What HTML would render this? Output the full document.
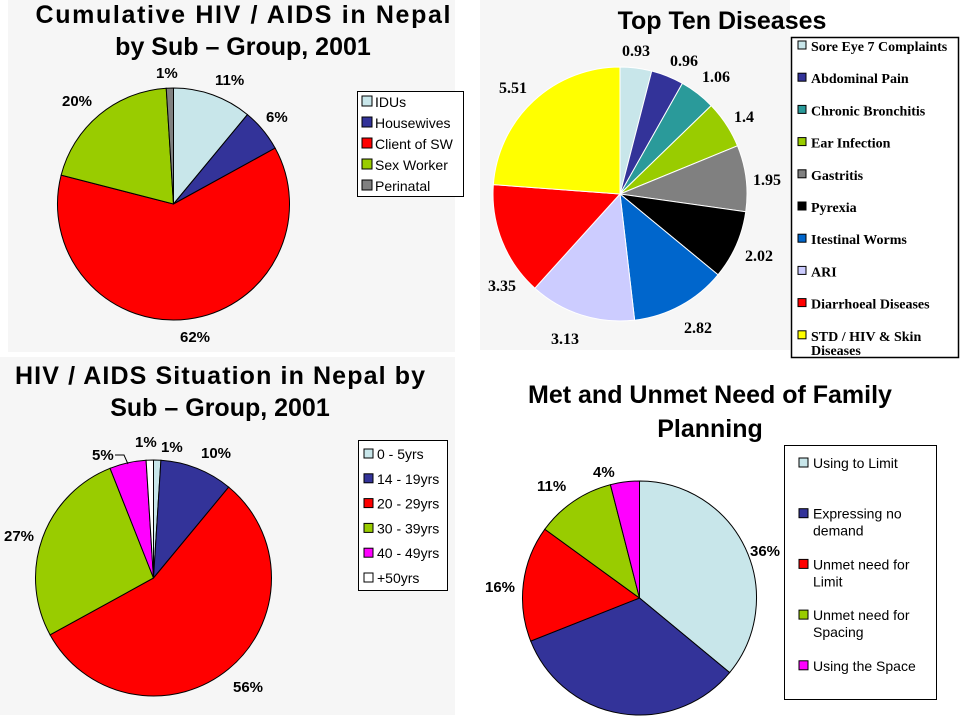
<!DOCTYPE html>
<html><head><meta charset="utf-8"><style>
body{margin:0;background:#fff;width:963px;height:719px;overflow:hidden}
svg{display:block}
text{font-family:"Liberation Sans",Arial,sans-serif}
.t{font-weight:bold;font-size:25px;text-anchor:middle}
.l{font-size:14px}
.p{font-weight:bold;font-size:15px}
.s{font-family:"Liberation Serif",serif;font-weight:bold;font-size:14px}
.sv{font-family:"Liberation Serif",serif;font-weight:bold;font-size:16px}
</style></head><body>
<svg id="s" width="963" height="719" xmlns="http://www.w3.org/2000/svg">
<rect x="8" y="0" width="447" height="352" fill="#f6f6f6"/>
<rect x="480" y="0" width="310" height="350" fill="#f6f6f6"/>
<rect x="0" y="357" width="455" height="358" fill="#f6f6f6"/>
<g id="pies"></g>
<text class="t" x="243" y="23" textLength="415">Cumulative HIV / AIDS  in Nepal</text>
<text class="t" x="243" y="55">by Sub – Group, 2001</text>
<text class="p" x="156" y="78">1%</text>
<text class="p" x="215" y="85">11%</text>
<text class="p" x="266" y="122">6%</text>
<text class="p" x="62" y="106">20%</text>
<text class="p" x="180" y="342">62%</text>
<rect x="357.5" y="91.5" width="106" height="105" fill="#fff" stroke="#000"/>
<rect x="362" y="96" width="10" height="10" fill="#c8e6ea" stroke="#000"/><text class="l" x="375" y="107">IDUs</text>
<rect x="362" y="117" width="10" height="10" fill="#333399" stroke="#000"/><text class="l" x="375" y="128">Housewives</text>
<rect x="362" y="138" width="10" height="10" fill="#ff0000" stroke="#000"/><text class="l" x="375" y="149">Client of SW</text>
<rect x="362" y="159" width="10" height="10" fill="#99cc00" stroke="#000"/><text class="l" x="375" y="170">Sex Worker</text>
<rect x="362" y="180" width="10" height="10" fill="#808080" stroke="#000"/><text class="l" x="375" y="191">Perinatal</text>
<text class="t" x="722" y="29">Top Ten Diseases</text>
<text class="sv" x="622" y="56">0.93</text>
<text class="sv" x="670" y="66">0.96</text>
<text class="sv" x="702" y="82">1.06</text>
<text class="sv" x="734" y="122">1.4</text>
<text class="sv" x="753" y="185">1.95</text>
<text class="sv" x="745" y="261">2.02</text>
<text class="sv" x="684" y="333">2.82</text>
<text class="sv" x="551" y="344">3.13</text>
<text class="sv" x="488" y="291">3.35</text>
<text class="sv" x="499" y="93">5.51</text>
<rect x="791.5" y="37.5" width="167" height="320" fill="#fff" stroke="#000" stroke-width="1.5"/>
<g id="leg2"></g>
<text class="t" x="220" y="384" textLength="410">HIV / AIDS  Situation in Nepal by</text>
<text class="t" x="220" y="416">Sub – Group, 2001</text>
<text class="p" x="135" y="447">1%</text>
<text class="p" x="161" y="452">1%</text>
<text class="p" x="201" y="458">10%</text>
<text class="p" x="92" y="460">5%</text>
<polyline points="115,455 124,455 128,464" fill="none" stroke="#000"/>
<text class="p" x="4" y="541">27%</text>
<text class="p" x="233" y="692">56%</text>
<rect x="358.5" y="440.5" width="89" height="150" fill="#fff" stroke="#000"/>
<g id="leg3"></g>
<text class="t" x="710" y="403">Met and Unmet Need of Family</text>
<text class="t" x="710" y="437">Planning</text>
<text class="p" x="750" y="556">36%</text>
<text class="p" x="485" y="592">16%</text>
<text class="p" x="537" y="491">11%</text>
<text class="p" x="593" y="477">4%</text>
<rect x="784.5" y="445.5" width="152" height="254" fill="#fff" stroke="#000"/>
<g id="leg4"></g>
</svg>
<script>
var NS="http://www.w3.org/2000/svg";
function el(p,t,a,txt){var e=document.createElementNS(NS,t);for(var k in a)e.setAttribute(k,a[k]);if(txt)e.textContent=txt;p.appendChild(e);return e;}
var pies=document.getElementById("pies");
function pie(cx,cy,r,vals,cols,sw){
 var tot=vals.reduce(function(a,b){return a+b},0),a=0;
 vals.forEach(function(v,i){
  var a0=a/tot*2*Math.PI,a1=(a+v)/tot*2*Math.PI;a+=v;
  var x0=cx+r*Math.sin(a0),y0=cy-r*Math.cos(a0),x1=cx+r*Math.sin(a1),y1=cy-r*Math.cos(a1);
  var lg=(a1-a0)>Math.PI?1:0;
  el(pies,"path",{d:"M"+cx+","+cy+"L"+x0+","+y0+"A"+r+","+r+" 0 "+lg+" 1 "+x1+","+y1+"Z",fill:cols[i],stroke:sw||"#000","stroke-width":1});
 });
}
pie(173.5,204,116,[11,6,62,20,1],["#c8e6ea","#333399","#ff0000","#99cc00","#808080"]);
pie(620,194,127,[0.93,0.96,1.06,1.4,1.95,2.02,2.82,3.13,3.35,5.51],["#c8e6ea","#333399","#2a9a9a","#99cc00","#808080","#000000","#0066cc","#ccccff","#ff0000","#ffff00"],"#fff");
pie(153.5,578,118,[1,10,56,27,5,1],["#c8e6ea","#333399","#ff0000","#99cc00","#ff00ff","#ffffff"]);
pie(639.5,598,117,[36,33,16,11,4],["#c8e6ea","#333399","#ff0000","#99cc00","#ff00ff"]);
var g2=document.getElementById("leg2");
var n2=["Sore Eye 7 Complaints","Abdominal Pain","Chronic Bronchitis","Ear Infection","Gastritis","Pyrexia","Itestinal Worms","ARI","Diarrhoeal Diseases","STD / HIV & Skin"];
var c2=["#c8e6ea","#333399","#2a9a9a","#99cc00","#808080","#000000","#0066cc","#ccccff","#ff0000","#ffff00"];
n2.forEach(function(n,i){var y=47+i*32.2;el(g2,"rect",{x:798,y:y-6,width:8,height:8,fill:c2[i],stroke:"#000"});el(g2,"text",{class:"s",x:811,y:y+4},n);});
el(g2,"text",{class:"s",x:811,y:355},"Diseases");
var g3=document.getElementById("leg3");
var n3=["0 - 5yrs","14 - 19yrs","20 - 29yrs","30 - 39yrs","40 - 49yrs","+50yrs"];
var c3=["#c8e6ea","#333399","#ff0000","#99cc00","#ff00ff","#ffffff"];
n3.forEach(function(n,i){var y=454+i*24.8;el(g3,"rect",{x:364,y:y-5,width:9,height:9,fill:c3[i],stroke:"#000"});el(g3,"text",{class:"l",x:377,y:y+5},n);});
var g4=document.getElementById("leg4");
var n4=[["Using to Limit"],["Expressing no","demand"],["Unmet need for","Limit"],["Unmet need for","Spacing"],["Using the Space"]];
var c4=["#c8e6ea","#333399","#ff0000","#99cc00","#ff00ff"];
n4.forEach(function(n,i){var y=463+i*50.7;el(g4,"rect",{x:799,y:y-5,width:9,height:9,fill:c4[i],stroke:"#000"});el(g4,"text",{class:"l",x:813,y:y+5},n[0]);if(n[1])el(g4,"text",{class:"l",x:813,y:y+22},n[1]);});
</script>
</body></html>
